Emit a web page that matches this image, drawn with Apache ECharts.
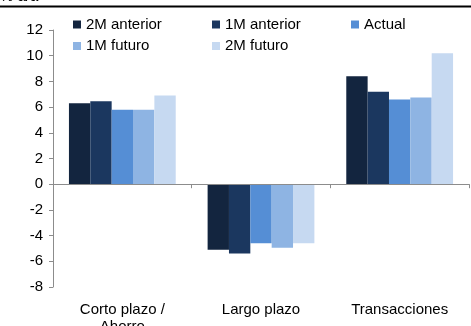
<!DOCTYPE html>
<html><head><meta charset="utf-8">
<script src="https://cdn.jsdelivr.net/npm/echarts@6/dist/echarts.min.js"></script>
<style>html,body{margin:0;padding:0;background:#fff}#c{width:471px;height:326px}</style>
</head><body><div id="c"></div>
<script>
var categories = ['Corto plazo /\nAhorro', 'Largo plazo', 'Transacciones'];
var seriesNames = ['2M anterior', '1M anterior', 'Actual', '1M futuro', '2M futuro'];
var s2Mant = [6.3, -5.1, 8.4];
var s1Mant = [6.45, -5.4, 7.2];
var sActual = [5.8, -4.6, 6.6];
var s1Mfut = [5.8, -4.95, 6.75];
var s2Mfut = [6.9, -4.6, 10.2];
var yTicks = [-8, -6, -4, -2, 0, 2, 4, 6, 8, 10, 12];
var colors = ['#13253f', '#1b375f', '#558ed5', '#8eb4e3', '#c6d9f1'];
var values = [s2Mant, s1Mant, sActual, s1Mfut, s2Mfut];
var FONT = "'Liberation Sans', Arial, sans-serif";

var legendPos = [[73, 17], [212, 17], [351, 17], [73, 38.5], [212, 38.5]];
var legends = seriesNames.map(function (n, i) {
  return {
    data: [n], left: legendPos[i][0], top: legendPos[i][1], padding: 0,
    itemWidth: 8, itemHeight: 8, icon: 'rect', itemGap: 0,
    textStyle: { fontSize: 15, color: '#000', fontFamily: FONT, padding: [0, 0, 0, 0] },
    selectedMode: false
  };
});

var chart = echarts.init(document.getElementById('c'), null, { renderer: 'canvas' });
chart.setOption({
  animation: false,
  textStyle: { fontFamily: FONT },
  graphic: [
    { type: 'rect', shape: { x: 0, y: 5.5, width: 471, height: 2 }, style: { fill: '#000' }, z: 10 },
    { type: 'text', left: 0, top: -11, style: { text: '% a/a', fontSize: 15, fill: '#000', fontFamily: FONT } }
  ],
  legend: legends,
  grid: { left: 53, right: 2, top: 30, bottom: 39, containLabel: false, outerBoundsMode: 'none' },
  xAxis: [
    {
      type: 'category', data: categories, position: 'bottom',
      axisLine: { show: false, onZero: false }, axisTick: { show: false },
      axisLabel: { fontSize: 15, color: '#000', margin: 14, lineHeight: 17, fontFamily: FONT, interval: 0 }
    },
    {
      type: 'category', data: categories, position: 'bottom', z: 5,
      axisLine: { show: true, onZero: true, lineStyle: { color: '#8c8c8c', width: 1 } },
      axisTick: { show: true, length: 4, lineStyle: { color: '#8c8c8c' } },
      axisLabel: { show: false }
    }
  ],
  yAxis: {
    type: 'value', min: yTicks[0], max: yTicks[yTicks.length - 1], interval: 2,
    axisLine: { show: true, lineStyle: { color: '#8c8c8c' } },
    axisTick: { show: true, length: 4, lineStyle: { color: '#8c8c8c' } },
    splitLine: { show: false },
    axisLabel: { fontSize: 15, color: '#000', margin: 10, fontFamily: FONT }
  },
  series: seriesNames.map(function (n, i) {
    return {
      name: n, type: 'bar', data: values[i], xAxisIndex: 0,
      barGap: '0%', barCategoryGap: '23%',
      itemStyle: { color: colors[i] }
    };
  })
});
</script></body></html>
